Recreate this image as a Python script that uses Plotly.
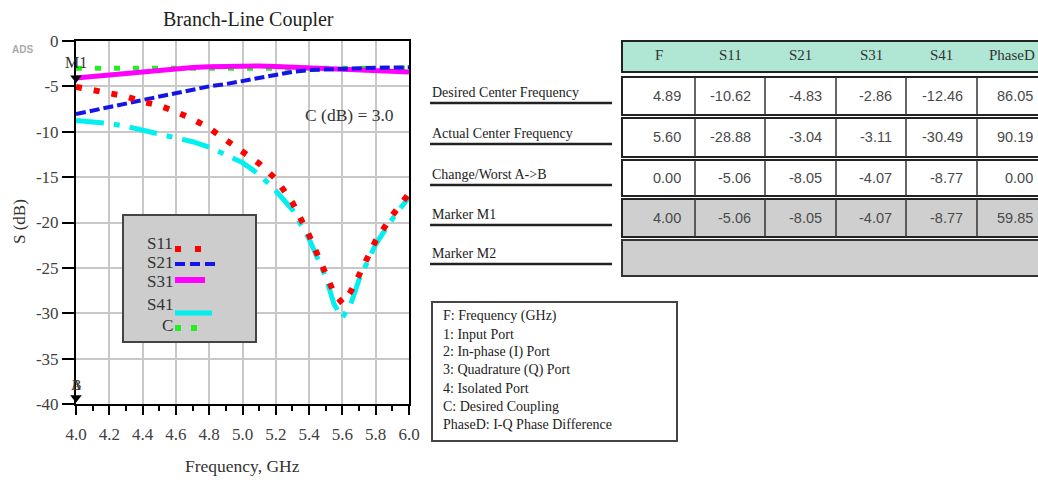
import plotly.graph_objects as go

W, H = 1038, 480

# ---------------- data ----------------
freq = [4.0, 4.1, 4.2, 4.3, 4.4, 4.5, 4.6, 4.7, 4.8, 4.9, 5.0, 5.1, 5.2, 5.3, 5.4, 5.5,
        5.55, 5.6, 5.65, 5.7, 5.8, 5.9, 6.0]
s11 = [-5.06, -5.4, -5.8, -6.1, -6.7, -7.1, -7.8, -8.6, -9.6, -10.9, -12.0, -13.5, -15.2,
       -17.8, -21.4, -25.7, -27.8, -28.9, -27.6, -25.8, -22.0, -19.2, -16.8]
s21 = [-8.05, -7.7, -7.3, -6.9, -6.5, -6.1, -5.7, -5.3, -5.0, -4.75, -4.4, -4.0, -3.7,
       -3.4, -3.2, -3.1, -3.07, -3.04, -3.02, -3.0, -2.95, -2.9, -2.9]
s31 = [-4.07, -3.9, -3.7, -3.5, -3.3, -3.15, -3.0, -2.92, -2.85, -2.8, -2.75, -2.75, -2.8,
       -2.87, -2.95, -3.03, -3.07, -3.11, -3.15, -3.2, -3.27, -3.35, -3.42]
s41 = [-8.77, -8.9, -9.1, -9.4, -9.8, -10.2, -10.6, -11.1, -11.7, -12.5, -13.4, -14.7, -16.5,
       -18.6, -21.8, -26.0, -29.0, -30.49, -29.0, -26.3, -22.4, -19.6, -17.2]
c_freq = [4.0, 6.0]
c_db = [-3.0, -3.0]

y_tick_vals = [0, -5, -10, -15, -20, -25, -30, -35, -40]
y_tick_text = ["0", "-5", "-10", "-15", "-20", "-25", "-30", "-35", "-40"]

marker_m1 = (4.0, -4.07)
marker_ab = (4.0, -39.3)

table_cols = ["F", "S11", "S21", "S31", "S41", "PhaseD"]
row_labels = ["Desired Center Frequency", "Actual Center Frequency", "Change/Worst A->B",
              "Marker M1", "Marker M2"]
row_desired = [4.89, -10.62, -4.83, -2.86, -12.46, 86.05]
row_actual = [5.60, -28.88, -3.04, -3.11, -30.49, 90.19]
row_change = [0.00, -5.06, -8.05, -4.07, -8.77, 0.00]
row_m1 = [4.00, -5.06, -8.05, -4.07, -8.77, 59.85]

notes = ["F: Frequency (GHz)", "1: Input Port", "2: In-phase (I) Port",
         "3: Quadrature (Q) Port", "4: Isolated Port", "C: Desired Coupling",
         "PhaseD: I-Q Phase Difference"]

legend_names = ["S11", "S21", "S31", "S41", "C"]

SERIF = "Liberation Serif"
SANS = "Liberation Sans"


def px(x):
    return x / W


def py(y):
    return 1 - y / H


fig = go.Figure()

# ---------------- traces ----------------
fig.add_trace(go.Scatter(x=c_freq, y=c_db, mode="lines", name="C",
                         line=dict(color="#22ee22", width=5, dash="6px,13px")))
fig.add_trace(go.Scatter(x=freq, y=s31, mode="lines", name="S31",
                         line=dict(color="#ff00ff", width=5)))
fig.add_trace(go.Scatter(x=freq, y=s21, mode="lines", name="S21",
                         line=dict(color="#1414e6", width=4, dash="10px,4px")))
fig.add_trace(go.Scatter(x=freq, y=s41, mode="lines", name="S41",
                         line=dict(color="#00f0f0", width=5, dash="28px,10px,6px,10px")))
fig.add_trace(go.Scatter(x=freq, y=s11, mode="lines", name="S11",
                         line=dict(color="#ff0000", width=6, dash="6px,12px")))

# markers
fig.add_trace(go.Scatter(x=[marker_m1[0], marker_ab[0]], y=[marker_m1[1], marker_ab[1]],
                         mode="markers", cliponaxis=False,
                         marker=dict(symbol="triangle-down", size=10, color="black")))

fig.update_layout(
    width=W, height=H,
    margin=dict(l=0, r=0, t=0, b=0, autoexpand=False),
    paper_bgcolor="white", plot_bgcolor="white",
    showlegend=False,
    xaxis=dict(domain=[px(76), px(409)], range=[4.0, 6.0], dtick=0.2, tick0=4.0,
               automargin=False,
               tickformat=".1f", showgrid=True, gridcolor="#c8c8c8", gridwidth=2,
               showline=True, linecolor="black", linewidth=2, mirror=True,
               ticks="outside", ticklen=9, tickwidth=2, tickcolor="black",
               ticklabelstandoff=5,
               minor=dict(dtick=0.1, ticks="outside", ticklen=5, tickwidth=2,
                          tickcolor="black", showgrid=False),
               tickfont=dict(family=SERIF, size=17, color="#404040"), zeroline=False),
    yaxis=dict(domain=[py(404), py(41)], range=[-40, 0],
               tickmode="array", tickvals=y_tick_vals, ticktext=y_tick_text,
               automargin=False,
               showgrid=True, gridcolor="#c8c8c8", gridwidth=2,
               showline=True, linecolor="black", linewidth=2, mirror=True,
               ticks="outside", ticklen=12, tickwidth=2, tickcolor="black",
               tickfont=dict(family=SERIF, size=17, color="#404040"), zeroline=False),
)

ann = []
shapes = []


def text(x, y, s, size=13, family=SERIF, color="#222222", xanchor="center", angle=0):
    ann.append(dict(x=px(x), y=py(y), xref="paper", yref="paper", text=s, showarrow=False,
                    xanchor=xanchor, yanchor="middle", textangle=angle,
                    font=dict(family=family, size=size, color=color)))


def rect(x0, y0, x1, y1, fill, line="#222222", lw=2):
    shapes.append(dict(type="rect", xref="paper", yref="paper", x0=px(x0), x1=px(x1),
                       y0=py(y1), y1=py(y0), fillcolor=fill, line=dict(color=line, width=lw)))


def hline(x0, x1, y, color, lw, dash="solid"):
    shapes.append(dict(type="line", xref="paper", yref="paper", x0=px(x0), x1=px(x1),
                       y0=py(y), y1=py(y), line=dict(color=color, width=lw, dash=dash)))


def vline(x, y0, y1, color="#222222", lw=2):
    shapes.append(dict(type="line", xref="paper", yref="paper", x0=px(x), x1=px(x),
                       y0=py(y0), y1=py(y1), line=dict(color=color, width=lw)))


# titles
text(248, 20, "Branch-Line Coupler", size=20, color="#222222")
text(242, 466, "Frequency, GHz", size=17.5, color="#333333")
text(19, 222, "S (dB)", size=17, color="#333333", angle=-90)
text(22, 50, "<b>ADS</b>", size=10, family=SANS, color="#aaaaaa")
ann.append(dict(x=5.645, y=-8.1, xref="x", yref="y", text="C (dB) = 3.0", showarrow=False,
                font=dict(family=SERIF, size=17.5, color="#333333")))
text(76, 63, "M1", size=16, color="#333333")
text(76, 385, "A", size=14, color="#333333")
text(76, 385, "B", size=14, color="#333333")

# legend box
rect(123, 215, 256, 342, "#cdcdcd", line="#444444", lw=2)
leg_text_y = [243, 262, 281, 304, 325]
leg_line_y = [249, 264, 280, 313, 328]
leg_styles = [("#ff0000", 6, "6px,14px", 201), ("#1414e6", 4, "10px,5px", 217),
              ("#ff00ff", 6, "solid", 205), ("#00f0f0", 5, "solid", 212),
              ("#22ee22", 6, "6px,10px", 197)]
for name, ty, ly, (col, lw, dash, xend) in zip(legend_names, leg_text_y, leg_line_y, leg_styles):
    text(175, ty, name, size=17, color="#333333", xanchor="right")
    hline(175, xend, ly, col, lw, dash)

# notes box
rect(432, 302, 677, 441, "white", line="#444444", lw=2)
for i, s in enumerate(notes):
    text(441, 316 + 18 * i, s, size=14, color="#222222", xanchor="left")

# table
col_edges = [622, 695, 765, 836, 906, 977, 1047]
rect(622, 41, 1047, 72, "#b0e6d4", line="#222222", lw=2)
for i, c in enumerate(table_cols):
    text((col_edges[i] + col_edges[i + 1]) / 2, 55, c, size=15, color="#333333")

rows = [(row_desired, 77, 115, "white"), (row_actual, 118, 157, "white"),
        (row_change, 160, 196, "white"), (row_m1, 199, 237, "#cfcfcf")]
for vals, y0, y1, fill in rows:
    rect(622, y0, 1047, y1, fill, line="#222222", lw=2)
    for xe in col_edges[1:-1]:
        vline(xe, y0, y1, "#333333", 1.5)
    for i, v in enumerate(vals):
        text(col_edges[i + 1] - 12, (y0 + y1) / 2, f"{v:.2f}", size=14.5, family=SANS,
             color="#4a4a4a", xanchor="right")
rect(622, 240, 1047, 276, "#cfcfcf", line="#333333", lw=2)

label_y = [92, 133, 174, 214, 253]
for lab, ly in zip(row_labels, label_y):
    text(430, ly, lab, size=14, color="#222222", xanchor="left")
    hline(430, 612, ly + 11, "#222222", 2.5)

fig.update_layout(annotations=ann, shapes=shapes)
fig.write_html("out.html", config={"displayModeBar": False},
               post_script="document.body.style.margin='0';document.body.style.overflow='hidden';")
